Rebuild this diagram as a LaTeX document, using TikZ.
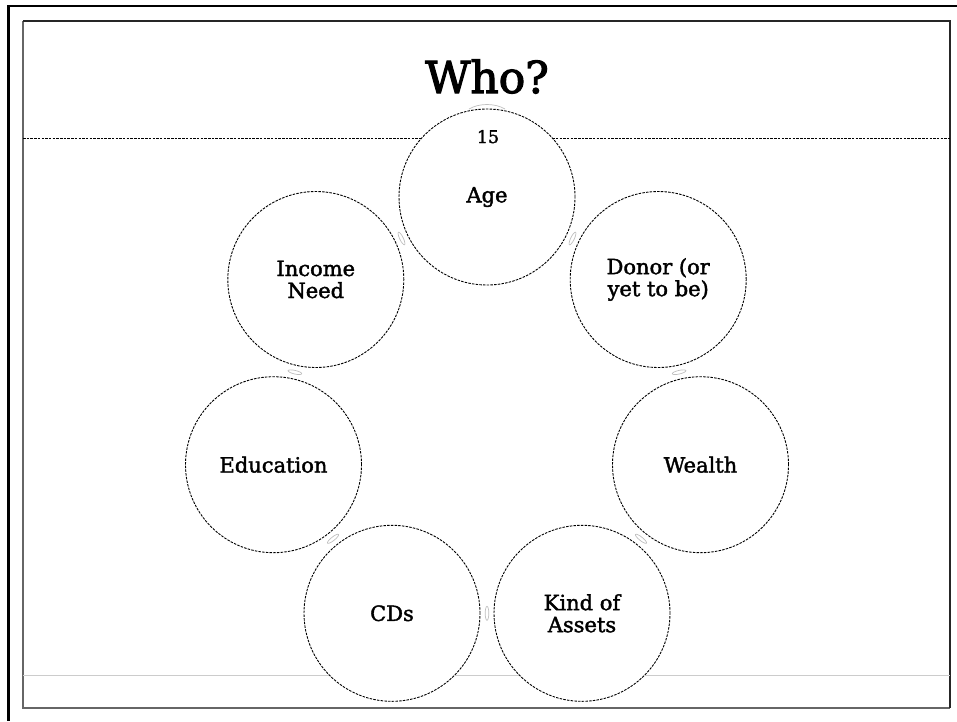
\documentclass[tikz,border=0pt]{standalone}
\usepackage{fontspec}
\setmainfont{DejaVu Serif}
\newfontfamily\titlefont{DejaVu Serif}[FakeBold=2.6]
\newfontfamily\labelfont{DejaVu Serif}[FakeBold=1.8]

\tikzset{
  cyclenode/.style={circle, draw, fill=white, line width=0.9pt,
    dash pattern=on 2.5pt off 1.2pt, minimum size=176pt, inner sep=0pt,
    align=center, font=\fontsize{21}{22}\selectfont\labelfont},
  leaf/.style={draw=black!25, line width=0.7pt},
}

\begin{document}
\begin{tikzpicture}[x=1pt, y=-1pt]
  \useasboundingbox (0,0) rectangle (957,721);

  % Frames
  \draw[line width=2.5pt] (957,6) -- (8.5,6) -- (8.5,721);
  \draw[black!60, line width=1.5pt] (23,21) -- (23,708) -- (950,708);
  \draw[black!85, line width=1.5pt] (23,21) -- (950,21) -- (950,708);

  % Rules across the slide
  \draw[line width=0.8pt, dash pattern=on 2.5pt off 1.2pt] (23,138) -- (950,138);
  \draw[black!20, line width=0.8pt] (23,675) -- (950,675);

  % Title
  \node[font=\fontsize{44}{44}\selectfont\titlefont, anchor=base] (title) at (487,93) {Who?};

  % The seven circles
  \node[cyclenode] (age) at (487,197) {Age};
  \node[cyclenode] (donor) at (658.2,279.5) {Donor (or\\yet to be)};
  \node[cyclenode] (wealth) at (700.5,464.7) {Wealth};
  \node[cyclenode] (assets) at (582,613.3) {Kind of\\Assets};
  \node[cyclenode] (cds) at (392,613.3) {CDs};
  \node[cyclenode] (education) at (273.5,464.7) {Education};
  \node[cyclenode] (income) at (315.8,279.5) {Income\\Need};

  % Slide number
  \node[font=\fontsize{17.5}{17.5}\selectfont\labelfont, anchor=base] (num) at (488,143) {15};

  % Small marks between the circles
  \draw[leaf] (572.5,238.5) ellipse[x radius=7, y radius=1.8, rotate=64.29];
  \draw[leaf] (679.1,372.2) ellipse[x radius=7, y radius=1.8, rotate=12.86];
  \draw[leaf] (641,538.8) ellipse[x radius=7, y radius=1.8, rotate=-38.57];
  \draw[leaf] (487,613.3) ellipse[x radius=7, y radius=1.8, rotate=-90];
  \draw[leaf] (333,538.8) ellipse[x radius=7, y radius=1.8, rotate=-141.43];
  \draw[leaf] (294.9,372.2) ellipse[x radius=7, y radius=1.8, rotate=167.14];
  \draw[leaf] (401.5,238.5) ellipse[x radius=7, y radius=1.8, rotate=115.71];
  \draw[leaf] (469,109) .. controls (479,103) and (495,103) .. (505,109);
\end{tikzpicture}
\end{document}
